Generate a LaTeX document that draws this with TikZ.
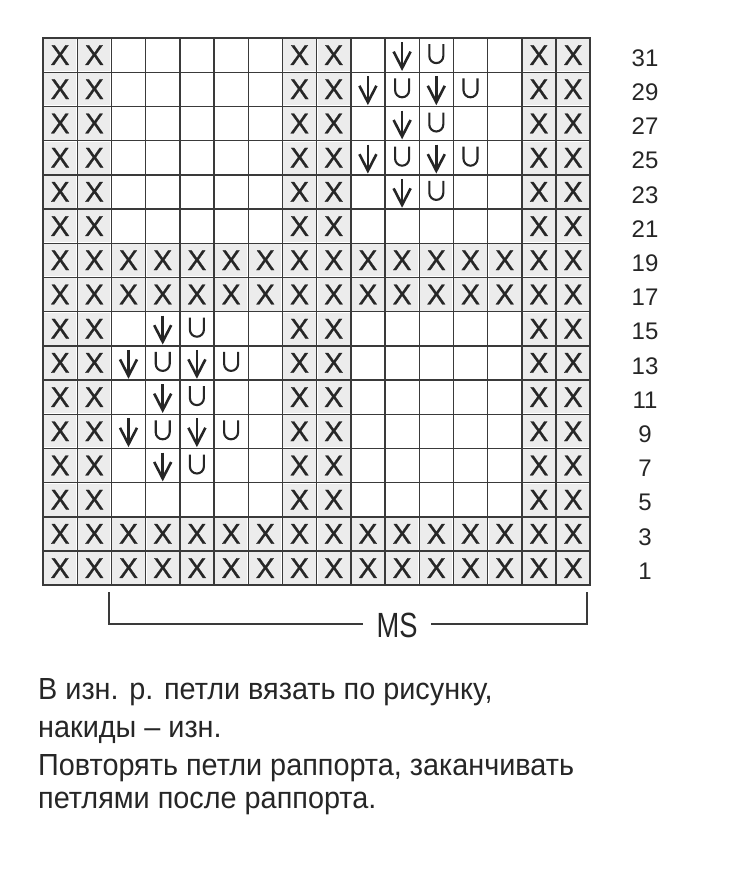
\documentclass[tikz,border=0pt]{standalone}
\usepackage{fontspec}
\setmainfont{Liberation Sans}
\newfontfamily\condf[FakeStretch=0.78]{Liberation Sans}
\newfontfamily\bodyf[FakeStretch=0.945]{Liberation Sans}
\newfontfamily\xf[FakeBold=0.8]{Liberation Sans}
\definecolor{ink}{HTML}{262626}
\definecolor{gridc}{HTML}{3A3A3A}
\definecolor{cellfill}{HTML}{ECECEC}
\tikzset{
  gridline/.style={draw=gridc, line width=1.4pt},
  xmark/.style={inner sep=0pt, text=ink, font=\xf\fontsize{28.5}{28.5}\selectfont},
  symline/.style={draw=ink, line width=2.6pt},
  rowlabel/.style={inner sep=0pt, text=ink, font=\fontsize{24}{24}\selectfont},
  bodytext/.style={inner sep=0pt, anchor=base west, text=ink, font=\bodyf\fontsize{30.5}{30.5}\selectfont},
  bracketline/.style={draw=gridc, line width=1.4pt},
}
\begin{document}
\begin{tikzpicture}[x=1pt,y=-1pt]
\useasboundingbox[fill=white] (0,0) rectangle (732,878);
\def\cw{34.2}
\def\gx{43}
\def\gy{38}
% fills of marked cells
\foreach \r in {1,2,3,4,5,6,9,10,11,12,13,14} \foreach \c in {1,2,8,9,15,16}
  \fill[cellfill] (\gx+\c*\cw-\cw+1,\gy+\r*\cw-\cw+1) rectangle (\gx+\c*\cw-1,\gy+\r*\cw-1);
\foreach \r in {7,8,15,16} \foreach \c in {1,...,16}
  \fill[cellfill] (\gx+\c*\cw-\cw+1,\gy+\r*\cw-\cw+1) rectangle (\gx+\c*\cw-1,\gy+\r*\cw-1);
% grid
\foreach \i in {0,...,16} {
  \draw[gridline] (\gx+\i*\cw,\gy) -- (\gx+\i*\cw,\gy+16*\cw);
  \draw[gridline] (\gx,\gy+\i*\cw) -- (\gx+16*\cw,\gy+\i*\cw);
}
\draw[gridline, line width=1.8pt] (\gx,\gy) rectangle (\gx+16*\cw,\gy+16*\cw);
% X marks
\foreach \r in {1,2,3,4,5,6,9,10,11,12,13,14} \foreach \c in {1,2,8,9,15,16}
  \node[xmark] (x-\r-\c) at (\gx+\c*\cw-0.5*\cw,\gy+\r*\cw-0.5*\cw) {X};
\foreach \r in {7,8,15,16} \foreach \c in {1,...,16}
  \node[xmark] (x-\r-\c) at (\gx+\c*\cw-0.5*\cw,\gy+\r*\cw-0.5*\cw) {X};
% down arrows
\foreach \r/\c in {1/11,2/10,2/12,3/11,4/10,4/12,5/11,9/4,10/3,10/5,11/4,12/3,12/5,13/4} {
  \begin{scope}[shift={(\gx+\c*\cw-0.5*\cw,\gy+\r*\cw-0.5*\cw)}]
    \draw[symline] (0,-13) -- (0,12);
    \draw[symline, line join=miter, line cap=butt] (-8.5,-3.5) -- (0,13) -- (8.5,-3.5);
  \end{scope}
}
% U marks
\foreach \r/\c in {1/12,2/11,2/13,3/12,4/11,4/13,5/12,9/5,10/4,10/6,11/5,12/4,12/6,13/5} {
  \begin{scope}[shift={(\gx+\c*\cw-0.5*\cw,\gy+\r*\cw-0.5*\cw)}]
    \draw[symline, line width=2.1pt] (-7,-11) -- (-7,1) arc[start angle=180, end angle=0, radius=7] -- (7,-11);
  \end{scope}
}
% row labels
\foreach \r/\t in {1/31,2/29,3/27,4/25,5/23,6/21,7/19,8/17,9/15,10/13,11/11,12/9,13/7,14/5,15/3,16/1}
  \node[rowlabel] (lab-\r) at (645,\gy+\r*\cw-0.5*\cw+3) {\t};
% MS bracket
\coordinate (bl) at (109,592);
\coordinate (blc) at (109,624);
\coordinate (br) at (587,592);
\coordinate (brc) at (587,624);
\node[inner sep=0pt, text=ink, font=\condf\fontsize{35}{35}\selectfont] (ms) at (397,625) {MS};
\draw[bracketline] (bl) -- (blc) -- (363,624);
\draw[bracketline] (431,624) -- (brc) -- (br);
% body text
\node[bodytext] (t1) at (38,699) {В изн. р. петли вязать по рисунку,};
\node[bodytext] (t2) at (38,737) {накиды – изн.};
\node[bodytext] (t3) at (38,775) {Повторять петли раппорта, заканчивать};
\node[bodytext] (t4) at (38,808) {петлями после раппорта.};
\end{tikzpicture}
\end{document}
